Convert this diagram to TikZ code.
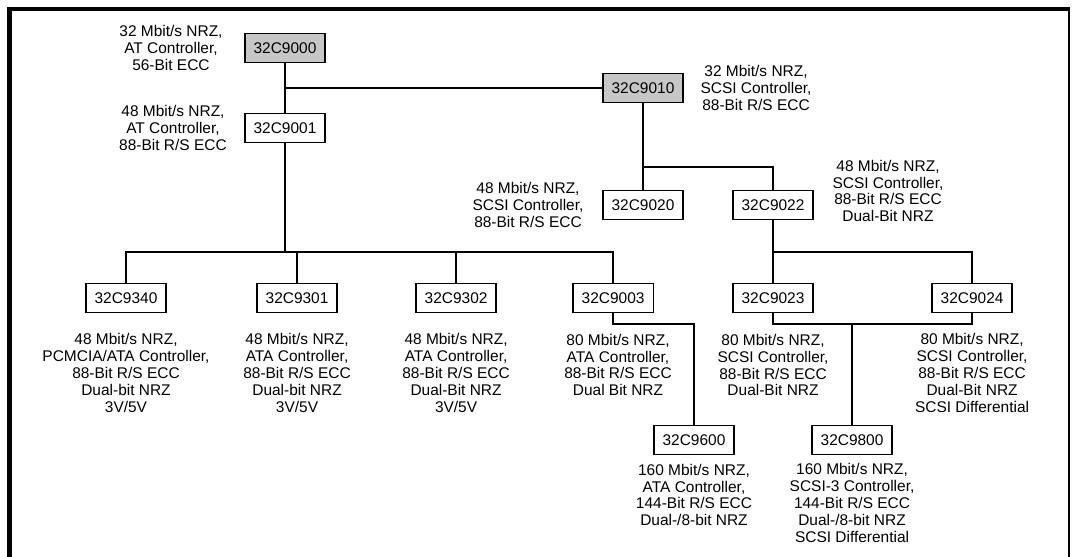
\documentclass[tikz,border=0pt]{standalone}
\usepackage{fontspec}
\setmainfont{Liberation Sans}
\usepackage{xcolor}
\usepackage{tikz}

\begin{document}
\begin{tikzpicture}[
    x=0.025cm,
    y=-0.025cm,
    node distance=2cm,
    every node/.style={font=\fontsize{11}{12}\selectfont},
    chip/.style={
      rectangle,
      draw,
      line width=0.9pt,
      fill=white,
      minimum width=2cm,
      minimum height=0.72cm
    },
    first/.style={chip, fill=black!22},
    spec/.style={
      align=center,
      inner sep=0pt
    },
    line/.style={draw, line width=1.1pt},
]
    \useasboundingbox (0,0) rectangle (1072,557);
    % frame
    \draw [line width=3pt] (9.5,557) -- (9.5,9) -- (1070,9);
    \draw [line width=0.9pt] (1069,9) -- (1069,557);

    \coordinate (bus) at (0,252);
    \coordinate (mbus) at (0,167);
    \coordinate (sbus) at (0,324);

    \node [first] (c9000) at (285,48) {32C9000};
    \node [chip, below of=c9000] (c9001) {32C9001};
    \node [first] (c9010) at (643,88) {32C9010};
    \node [chip, below of=c9010, node distance=2.925cm] (c9020) {32C9020};
    \node [chip, right of=c9020, node distance=3.25cm] (c9022) {32C9022};
    \node [chip, below of=c9022, node distance=2.325cm] (c9023) {32C9023};
    \node [chip, right of=c9023, node distance=4.975cm] (c9024) {32C9024};

    \node [chip] (c9340) at (126,298) {32C9340};
    \node [chip, right of=c9340, node distance=4.275cm] (c9301) {32C9301};
    \node [chip, right of=c9301, node distance=3.975cm] (c9302) {32C9302};
    \node [chip, right of=c9302, node distance=3.925cm] (c9003) {32C9003};
    \node [chip] (c9600) at (694,440) {32C9600};
    \node [chip, right of=c9600, node distance=3.95cm] (c9800) {32C9800};

    % specs
    \node [spec, left of=c9000, node distance=2.85cm] (t9000) {32 Mbit/s NRZ,\\AT Controller,\\56-Bit ECC};
    \node [spec, left of=c9001, node distance=2.8cm] (t9001) {48 Mbit/s NRZ,\\AT Controller,\\88-Bit R/S ECC};
    \node [spec, right of=c9010, node distance=2.825cm] (t9010) {32 Mbit/s NRZ,\\SCSI Controller,\\88-Bit R/S ECC};
    \node [spec, left of=c9020, node distance=2.875cm] (t9020) {48 Mbit/s NRZ,\\SCSI Controller,\\88-Bit R/S ECC};
    \node [spec] (t9022) at (888,191) {48 Mbit/s NRZ,\\SCSI Controller,\\88-Bit R/S ECC\\Dual-Bit NRZ};
    \node [spec, below of=c9340, node distance=1.875cm] (t9340) {48 Mbit/s NRZ,\\PCMCIA/ATA Controller,\\88-Bit R/S ECC\\Dual-bit NRZ\\3V/5V};
    \node [spec, below of=c9301, node distance=1.875cm] (t9301) {48 Mbit/s NRZ,\\ATA Controller,\\88-Bit R/S ECC\\Dual-bit NRZ\\3V/5V};
    \node [spec, below of=c9302, node distance=1.875cm] (t9302) {48 Mbit/s NRZ,\\ATA Controller,\\88-Bit R/S ECC\\Dual-Bit NRZ\\3V/5V};
    \node [spec] (t9003) at (618,365) {80 Mbit/s NRZ,\\ATA Controller,\\88-Bit R/S ECC\\Dual Bit NRZ};
    \node [spec, below of=c9023, node distance=1.675cm] (t9023) {80 Mbit/s NRZ,\\SCSI Controller,\\88-Bit R/S ECC\\Dual-Bit NRZ};
    \node [spec, below of=c9024, node distance=1.875cm] (t9024) {80 Mbit/s NRZ,\\SCSI Controller,\\88-Bit R/S ECC\\Dual-Bit NRZ\\SCSI Differential};
    \node [spec, below of=c9600, node distance=1.375cm] (t9600) {160 Mbit/s NRZ,\\ATA Controller,\\144-Bit R/S ECC\\Dual-/8-bit NRZ};
    \node [spec, below of=c9800, node distance=1.575cm] (t9800) {160 Mbit/s NRZ,\\SCSI-3 Controller,\\144-Bit R/S ECC\\Dual-/8-bit NRZ\\SCSI Differential};

    \path [line] (c9000) -- (c9001);
    \path [line] (c9010) -- (c9010 -| c9000);
    \path [line] (c9001) -- (c9001 |- bus);
    \path [line] (c9340) |- (c9003 |- bus) -- (c9003);
    \path [line] (c9301) -- (c9301 |- bus);
    \path [line] (c9302) -- (c9302 |- bus);
    \path [line] (c9010) -- (c9020);
    \path [line] (c9022) |- (c9020 |- mbus);
    \path [line] (c9022) -- (c9023);
    \path [line] (c9024) |- (c9023 |- bus);
    \path [line] (c9023) |- (c9024 |- sbus) -- (c9024);
    \path [line] (c9800) -- (c9800 |- sbus);
    \path [line] (c9003) |- (c9600 |- sbus) -- (c9600);

\end{tikzpicture}
\end{document}
